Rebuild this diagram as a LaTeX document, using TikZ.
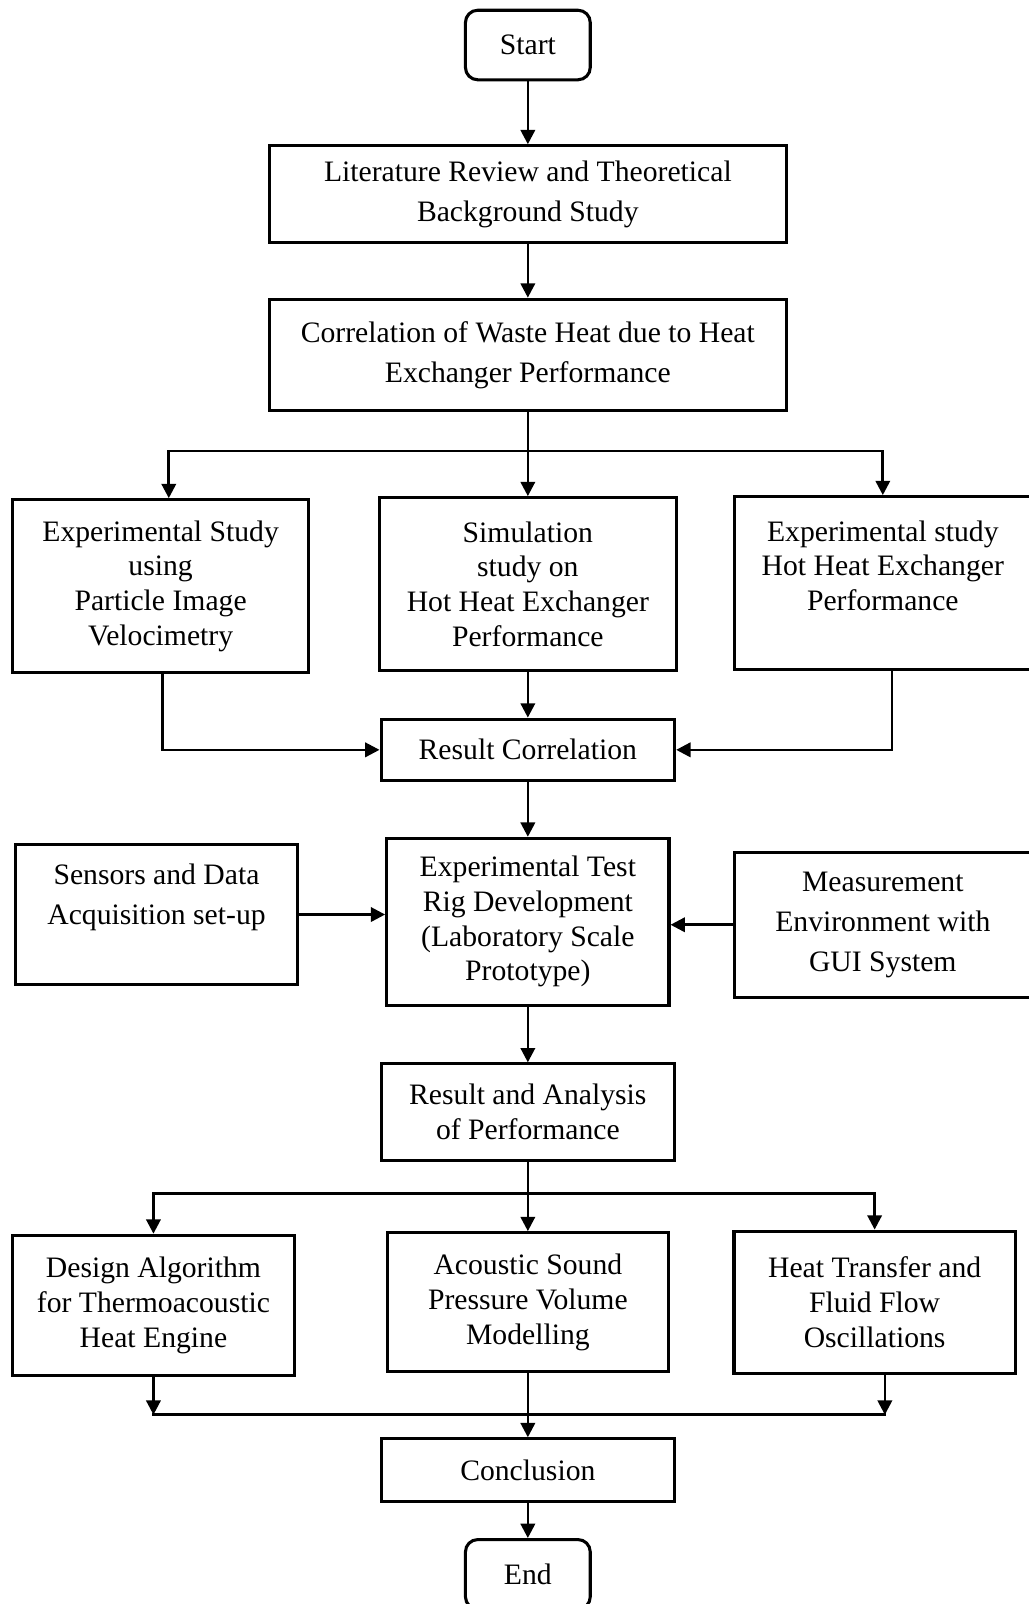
\documentclass[tikz,border=0pt]{standalone}
\usepackage{fontspec}
\setmainfont{Liberation Serif}
\usetikzlibrary{arrows.meta}

\tikzset{
	box/.style = {draw, line width=3pt, align=center, inner sep=0pt, font=\fontsize{29}{34}\selectfont},
	loose/.style = {font=\fontsize{29}{39}\selectfont},
	term/.style = {box, rounded corners=12pt, minimum width=122pt, minimum height=68pt},
	plain/.style = {line width=2.6pt, line cap=rect},
	flow/.style = {line width=2.6pt, -{Triangle[length=14pt, width=14pt]}},
}

\begin{document}
\begin{tikzpicture}[x=1pt, y=-1pt]
			\def\midX{516};

			\useasboundingbox (0,0) rectangle (1005,1568);

			\begin{scope}
				\node [term] (start) at (\midX,44) {Start};
				\node [box, loose, minimum width=506pt, minimum height=95pt] (lit) at (\midX,190) {Literature Review and Theoretical\\Background Study};
				\node [box, loose, minimum width=506pt, minimum height=109pt] (corr) at (\midX,347) {Correlation of Waste Heat due to Heat\\Exchanger Performance};

				\node [box, minimum width=290pt, minimum height=169pt] (piv) at (157,573) {Experimental Study\\using\\Particle Image\\Velocimetry};
				\node [box, minimum width=290pt, minimum height=169pt] (sim) at (\midX,571) {Simulation\\study on\\Hot Heat Exchanger\\Performance};
				\node [box, minimum width=290pt, minimum height=169pt] (hot) at (863,570) {Experimental study\\Hot Heat Exchanger\\Performance\\\mbox{}};

				\node [box, minimum width=287pt, minimum height=60pt] (result) at (\midX,733) {Result Correlation};

				\node [box, loose, minimum width=276pt, minimum height=137pt] (sensors) at (153,894) {Sensors and Data\\Acquisition set-up\\\mbox{}};
				\node [box, minimum width=276pt, minimum height=163pt] (rig) at (\midX,901) {Experimental Test\\Rig Development\\(Laboratory Scale\\Prototype)};
				\node [box, loose, minimum width=290pt, minimum height=142pt] (meas) at (863,904) {Measurement\\Environment with\\GUI System};

				\node [box, minimum width=286pt, minimum height=94pt] (analysis) at (\midX,1087) {Result and Analysis\\of Performance};

				\node [box, minimum width=276pt, minimum height=137pt] (design) at (150,1276) {Design Algorithm\\for Thermoacoustic\\Heat Engine};
				\node [box, minimum width=275pt, minimum height=136pt] (acoustic) at (\midX,1273) {Acoustic Sound\\Pressure Volume\\Modelling};
				\node [box, minimum width=275pt, minimum height=139pt] (heat) at (855,1273) {Heat Transfer and\\Fluid Flow\\Oscillations};

				\node [box, minimum width=287pt, minimum height=61pt] (concl) at (\midX,1437) {Conclusion};
				\node [term] (end) at (\midX,1539) {End};
			\end{scope}

			\coordinate (split) at (\midX,441);
			\coordinate (join) at (\midX,1167);
			\coordinate (merge) at (\midX,1383);

			\begin{scope}
				\draw [flow] (start) -- (lit);
				\draw [flow] (lit) -- (corr);
				\draw [plain] (corr) -- (split);
				\draw [flow] (split) -- (sim);
				\draw [flow] (split) -| ([xshift=8pt]piv.north);
				\draw [flow] (split) -| (hot);
			\end{scope}

			\begin{scope}
				\draw [flow] ([xshift=2pt]piv.south) |- (result);
				\draw [flow] (sim) -- (result);
				\draw [flow] ([xshift=9pt]hot.south) |- (result);
				\draw [flow] (result) -- (rig);
				\draw [flow] (sensors.east) -- (sensors.east -| rig.west);
				\draw [flow] (meas.west) -- (meas.west -| rig.east);
				\draw [flow] (rig) -- (analysis);
			\end{scope}

			\begin{scope}
				\draw [plain] (analysis) -- (join);
				\draw [flow] (join) -- (acoustic);
				\draw [flow] (join) -| (design);
				\draw [flow] (join) -| (heat);
			\end{scope}

			\begin{scope}
				\draw [flow] (design.south) -- (design.south |- merge);
				\draw [flow] ([xshift=10pt]heat.south) -- ([xshift=10pt]heat.south |- merge);
				\draw [plain] (design.south |- merge) -- ([xshift=10pt]heat.south |- merge);
				\draw [flow] (acoustic) -- (concl);
				\draw [flow] (concl) -- (end);
			\end{scope}
		\end{tikzpicture}
\end{document}
